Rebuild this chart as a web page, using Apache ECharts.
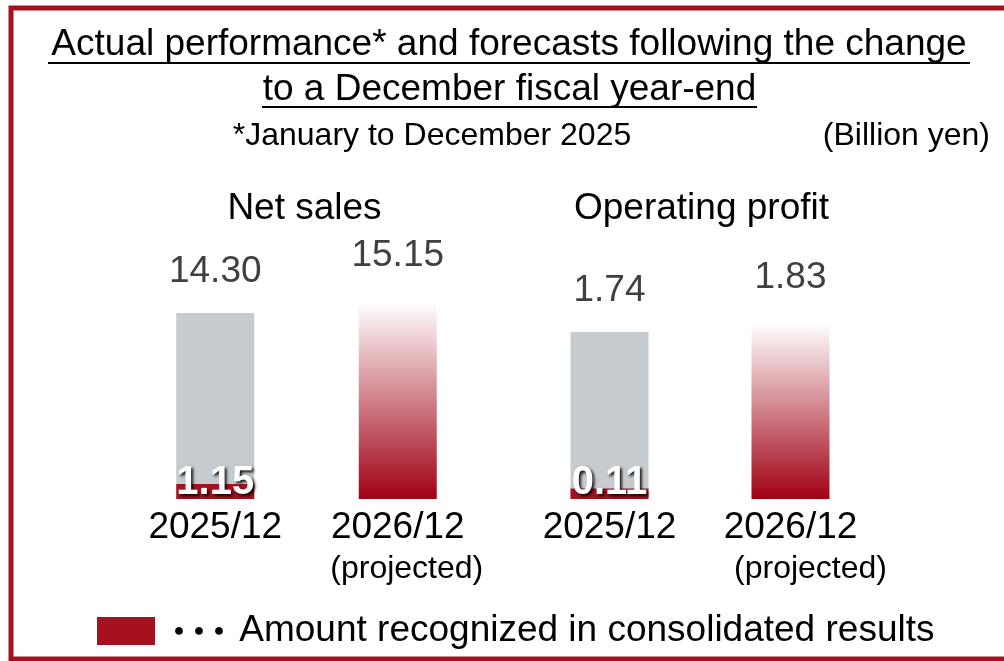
<!DOCTYPE html>
<html>
<head>
<meta charset="utf-8">
<title>Actual performance and forecasts</title>
<script src="https://cdn.jsdelivr.net/npm/echarts@6.0.0/dist/echarts.min.js"></script>
<style>
    html, body { margin: 0; padding: 0; background: #fff; }
    #chart { width: 1004px; height: 661px; }
</style>
</head>
<body>
<div id="chart"></div>
<script>
// values in billion yen
const categories = ['2025/12', '2026/12'];
const netSales = [14.30, 15.15];
const netSalesConsolidated = [1.15, null];
const operatingProfit = [1.74, 1.83];
const operatingProfitConsolidated = [0.11, null];
const panelTitles = ['Net sales', 'Operating profit'];
const legendName = 'Amount recognized in consolidated results';

const FONT = '"Liberation Sans", Arial, sans-serif';
const RED = '#a5111f';
const GRAY = '#c5cbcf';

var chartDom = document.getElementById('chart');
var myChart = echarts.init(chartDom);

const projectedColor = new echarts.graphic.LinearGradient(0, 0, 0, 1, [
    { offset: 0, color: 'rgba(160, 0, 20, 0)' },
    { offset: 1, color: 'rgba(160, 0, 20, 1)' },
]);

function totalSeries(values, axisIndex) {
    return {
        name: 'Total',
        type: 'bar',
        xAxisIndex: axisIndex,
        yAxisIndex: axisIndex,
        barWidth: 78,
        silent: true,
        data: values.map(function (v, i) {
            return {
                value: v,
                itemStyle: { color: i === 0 ? GRAY : projectedColor },
                label: { distance: i === 0 ? 41 : 46 },
            };
        }),
        label: {
            show: true,
            position: 'top',
            verticalAlign: 'middle',
            fontFamily: FONT,
            fontSize: 37,
            color: '#404040',
            formatter: p => p.value.toFixed(2),
        },
    };
}

function consolidatedSeries(values, axisIndex) {
    return {
        name: legendName,
        type: 'bar',
        xAxisIndex: axisIndex,
        yAxisIndex: axisIndex,
        barWidth: 78,
        barGap: '-100%',
        silent: true,
        itemStyle: { color: RED },
        data: values,
        label: {
            show: true,
            position: 'insideBottom',
            distance: 16,
            verticalAlign: 'middle',
            fontFamily: FONT,
            fontSize: 40,
            fontWeight: 'bold',
            color: '#fff',
            textShadowColor: 'rgba(0,0,0,0.9)',
            textShadowBlur: 3,
            textShadowOffsetX: 2,
            textShadowOffsetY: 2,
            formatter: p => p.value.toFixed(2),
        },
    };
}

function categoryAxis(gridIndex, shift) {
    return {
        type: 'category',
        gridIndex: gridIndex,
        data: categories,
        axisLine: { show: false },
        axisTick: { show: false },
        axisLabel: {
            interval: 0,
            margin: 9,
            fontFamily: FONT,
            fontSize: 37,
            lineHeight: 40,
            color: '#000',
            formatter: (v, i) => i === 1 ? v + '\n{p|(projected)}' : v,
            rich: {
                p: {
                    fontFamily: FONT,
                    fontSize: 32,
                    lineHeight: 43,
                    color: '#000',
                    padding: [0, 0, 0, shift],
                },
            },
        },
    };
}

function text(str, x, y, size, align) {
    return {
        type: 'text',
        x: x,
        y: y,
        silent: true,
        style: {
            text: str,
            fontFamily: FONT,
            fontSize: size,
            fill: '#000',
            align: align || 'center',
            verticalAlign: 'middle',
        },
    };
}

function underline(x1, x2, y) {
    return {
        type: 'rect',
        silent: true,
        shape: { x: x1, y: y, width: x2 - x1, height: 2 },
        style: { fill: '#000' },
    };
}

var option = {
    animation: false,
    backgroundColor: '#fff',
    grid: [
        { left: 124, width: 365, top: 239, height: 260 },
        { left: 519, width: 362, top: 307, height: 192 },
    ],
    xAxis: [categoryAxis(0, 18), categoryAxis(1, 40)],
    yAxis: [
        { type: 'value', gridIndex: 0, min: 0, max: 20, show: false },
        { type: 'value', gridIndex: 1, min: 0, max: 2, show: false },
    ],
    legend: {
        left: 92,
        top: 606,
        itemWidth: 58,
        itemHeight: 28,
        selectedMode: false,
        data: [{ name: legendName, icon: 'rect' }],
        formatter: name => '{d|･･･} ' + name,
        textStyle: {
            fontFamily: FONT,
            fontSize: 37,
            color: '#000',
            padding: [0, 0, 0, 9],
            rich: {
                d: {
                    fontFamily: '"Noto Sans CJK JP", ' + FONT,
                    fontSize: 40,
                    fontWeight: 'bold',
                    color: '#000',
                },
            },
        },
    },
    graphic: [
        {
            type: 'rect',
            silent: true,
            shape: { x: 11, y: 8, width: 1000, height: 651 },
            style: { fill: 'none', stroke: RED, lineWidth: 5 },
        },
        text('Actual performance* and forecasts following the change', 509, 45, 37),
        underline(48, 970, 62),
        text('to a December fiscal year-end', 509.5, 90, 37),
        underline(262, 757, 106),
        text('*January to December 2025', 432, 136, 32),
        text('(Billion yen)', 990, 136, 32, 'right'),
        text(panelTitles[0], 304.5, 209, 37),
        text(panelTitles[1], 701.5, 209, 37),
    ],
    series: [
        totalSeries(netSales, 0),
        consolidatedSeries(netSalesConsolidated, 0),
        totalSeries(operatingProfit, 1),
        consolidatedSeries(operatingProfitConsolidated, 1),
    ],
};

option && myChart.setOption(option);
</script>
</body>
</html>
